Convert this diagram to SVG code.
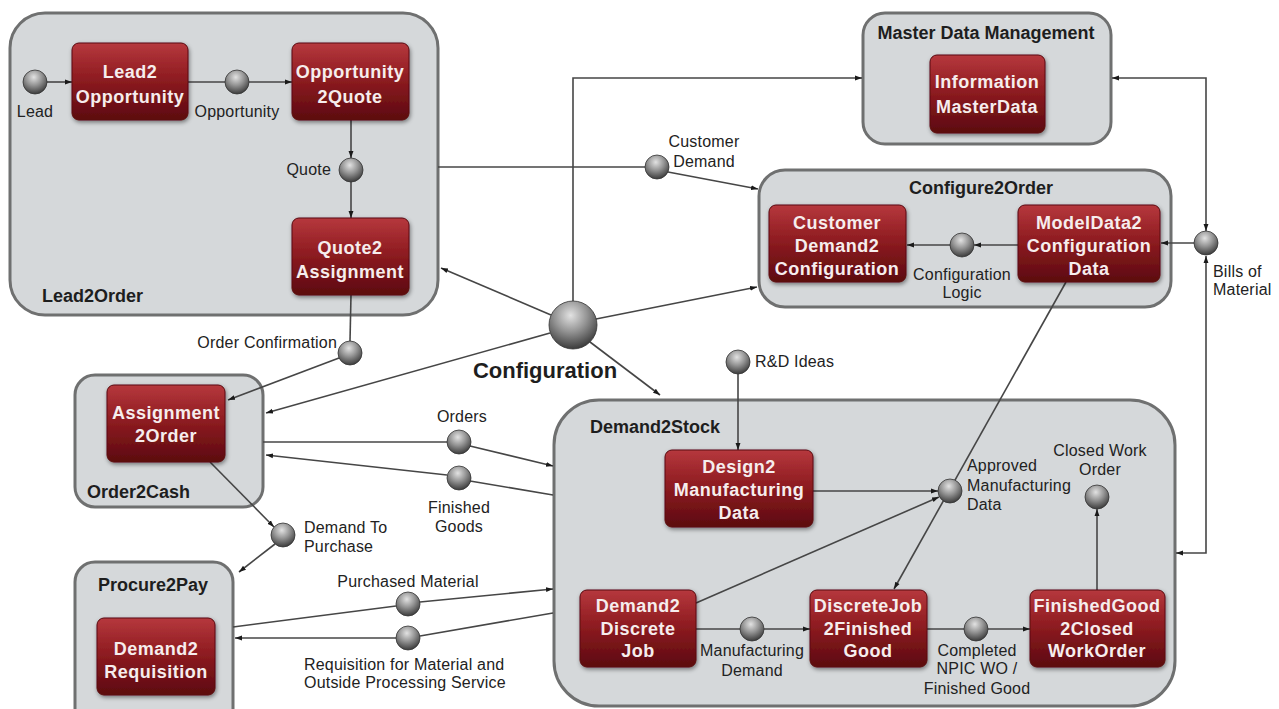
<svg xmlns="http://www.w3.org/2000/svg" width="1279" height="709" viewBox="0 0 1279 709">
<style>
.cont{fill:#d5d8da;stroke:#6f7070;stroke-width:3}
.box{fill:url(#red);stroke:#5a0a0e;stroke-width:1;filter:url(#sh)}
.bt{font-family:"Liberation Sans",Arial,sans-serif;font-weight:bold;font-size:18px;fill:#f6eded;text-anchor:middle;letter-spacing:0.5px}
.ct{font-family:"Liberation Sans",Arial,sans-serif;font-weight:bold;font-size:18px;fill:#1e1e1e}
.lb{font-family:"Liberation Sans",Arial,sans-serif;font-size:16px;fill:#222;letter-spacing:0.2px}
.m{text-anchor:middle}
.e{text-anchor:end}
.ball{fill:url(#sph);stroke:#333;stroke-width:0.8}
.cn line,.cn path{stroke:#464646;stroke-width:1.6;fill:none}
.a{marker-end:url(#ah)}
</style>
<defs>
<linearGradient id="red" x1="0" y1="0" x2="0" y2="1">
<stop offset="0" stop-color="#b6383d"/>
<stop offset="0.45" stop-color="#8f1c21"/>
<stop offset="1" stop-color="#5c0a0f"/>
</linearGradient>
<radialGradient id="sph" cx="0.45" cy="0.3" r="0.75">
<stop offset="0" stop-color="#e2e2e2"/>
<stop offset="0.45" stop-color="#959595"/>
<stop offset="1" stop-color="#2f2f2f"/>
</radialGradient>
<filter id="sh" x="-10%" y="-10%" width="125%" height="130%">
<feDropShadow dx="1" dy="2" stdDeviation="2" flood-color="#000" flood-opacity="0.45"/>
</filter>
<marker id="ah" viewBox="0 0 10 10" refX="10" refY="5" markerWidth="7" markerHeight="7" markerUnits="userSpaceOnUse" orient="auto">
<path d="M0,1.5 L10,5 L0,8.5 z" fill="#1a1a1a"/>
</marker>
</defs>
<rect width="1279" height="709" fill="#fff"/>

<g id="containers">
<g id="lead2order"><rect class="cont" x="10" y="13" width="428" height="302" rx="35"/><text class="ct" x="42" y="302">Lead2Order</text></g>
<g id="masterdata"><rect class="cont" x="863" y="13" width="248" height="131" rx="22"/><text class="ct m" x="986" y="39" text-anchor="middle">Master Data Management</text></g>
<g id="configure2order"><rect class="cont" x="759" y="170" width="412" height="137" rx="26"/><text class="ct" x="981" y="194" text-anchor="middle">Configure2Order</text></g>
<g id="order2cash"><rect class="cont" x="75" y="375" width="188" height="132" rx="20"/><text class="ct" x="87" y="498">Order2Cash</text></g>
<g id="procure2pay"><rect class="cont" x="75" y="562" width="158" height="170" rx="20"/><text class="ct" x="153" y="591" text-anchor="middle">Procure2Pay</text></g>
<g id="demand2stock"><rect class="cont" x="554" y="400" width="621" height="306" rx="45"/><text class="ct" x="590" y="433">Demand2Stock</text></g>
</g>

<g id="connectors" class="cn">
<line class="a" x1="47" y1="82" x2="72" y2="82"/>
<line x1="188" y1="82" x2="225" y2="82"/>
<line class="a" x1="249" y1="82" x2="292" y2="82"/>
<line class="a" x1="351" y1="120" x2="351" y2="158"/>
<line class="a" x1="351" y1="182" x2="351" y2="218"/>
<line x1="351" y1="295" x2="350" y2="341"/>
<line class="a" x1="339" y1="358" x2="228" y2="400"/>
<line x1="438" y1="167" x2="645" y2="167"/>
<line class="a" x1="668" y1="172" x2="758" y2="189"/>
<path class="a" d="M573,301 L573,78 L862,78"/>
<line class="a" x1="551" y1="315" x2="441" y2="268"/>
<line class="a" x1="596" y1="319" x2="757" y2="287"/>
<line class="a" x1="590" y1="342" x2="660" y2="395"/>
<line class="a" x1="550" y1="333" x2="266" y2="413"/>
<path class="a" d="M1206,200 L1206,78 L1112,78"/>
<line class="a" x1="1206" y1="200" x2="1206" y2="231"/>
<line class="a" x1="1194" y1="243" x2="1161" y2="243"/>
<path class="a" d="M1206,500 L1206,553 L1176,553"/>
<line class="a" x1="1206" y1="500" x2="1206" y2="256"/>
<line class="a" x1="1018" y1="245" x2="974" y2="245"/>
<line class="a" x1="950" y1="245" x2="907" y2="245"/>
<line x1="263" y1="442" x2="447" y2="442"/>
<line class="a" x1="470" y1="446" x2="553" y2="466"/>
<line x1="553" y1="495" x2="470" y2="481"/>
<line class="a" x1="447" y1="475" x2="266" y2="455"/>
<line class="a" x1="210" y1="462" x2="274" y2="527"/>
<line class="a" x1="275" y1="544" x2="239" y2="572"/>
<line x1="233" y1="627" x2="396" y2="606"/>
<line class="a" x1="420" y1="602" x2="553" y2="589"/>
<line x1="553" y1="613" x2="420" y2="636"/>
<line class="a" x1="396" y1="638" x2="235" y2="638"/>
<line class="a" x1="738" y1="374" x2="738" y2="450"/>
<line class="a" x1="813" y1="491" x2="938" y2="491"/>
<line class="a" x1="696" y1="603" x2="939" y2="497"/>
<line class="a" x1="1066" y1="282" x2="894" y2="589"/>
<line x1="696" y1="629" x2="740" y2="629"/>
<line class="a" x1="764" y1="629" x2="810" y2="629"/>
<line x1="927" y1="629" x2="964" y2="629"/>
<line class="a" x1="988" y1="629" x2="1030" y2="629"/>
<line class="a" x1="1097" y1="590" x2="1097" y2="509"/>
</g>

<g id="n-lead2opportunity"><rect class="box" x="72" y="43" width="116" height="77" rx="7"/><text class="bt" x="130" y="78">Lead2</text><text class="bt" x="130" y="103">Opportunity</text></g>
<g id="n-opportunity2quote"><rect class="box" x="292" y="43" width="117" height="77" rx="7"/><text class="bt" x="350" y="78">Opportunity</text><text class="bt" x="350" y="103">2Quote</text></g>
<g id="n-quote2assignment"><rect class="box" x="292" y="218" width="117" height="77" rx="7"/><text class="bt" x="350" y="254">Quote2</text><text class="bt" x="350" y="278">Assignment</text></g>
<g id="n-informationmasterdata"><rect class="box" x="930" y="55" width="115" height="78" rx="7"/><text class="bt" x="987" y="88">Information</text><text class="bt" x="987" y="113">MasterData</text></g>
<g id="n-customerdemand2configuration"><rect class="box" x="769" y="205" width="137" height="77" rx="7"/><text class="bt" x="837" y="229">Customer</text><text class="bt" x="837" y="252">Demand2</text><text class="bt" x="837" y="275">Configuration</text></g>
<g id="n-modeldata2configurationdata"><rect class="box" x="1018" y="205" width="142" height="77" rx="7"/><text class="bt" x="1089" y="229">ModelData2</text><text class="bt" x="1089" y="252">Configuration</text><text class="bt" x="1089" y="275">Data</text></g>
<g id="n-assignment2order"><rect class="box" x="107" y="385" width="118" height="77" rx="7"/><text class="bt" x="166" y="419">Assignment</text><text class="bt" x="166" y="442">2Order</text></g>
<g id="n-demand2requisition"><rect class="box" x="97" y="618" width="118" height="77" rx="7"/><text class="bt" x="156" y="655">Demand2</text><text class="bt" x="156" y="678">Requisition</text></g>
<g id="n-design2manufacturingdata"><rect class="box" x="665" y="450" width="148" height="77" rx="7"/><text class="bt" x="739" y="473">Design2</text><text class="bt" x="739" y="496">Manufacturing</text><text class="bt" x="739" y="519">Data</text></g>
<g id="n-demand2discretejob"><rect class="box" x="580" y="590" width="116" height="77" rx="7"/><text class="bt" x="638" y="612">Demand2</text><text class="bt" x="638" y="635">Discrete</text><text class="bt" x="638" y="657">Job</text></g>
<g id="n-discretejob2finishedgood"><rect class="box" x="810" y="590" width="117" height="77" rx="7"/><text class="bt" x="868" y="612">DiscreteJob</text><text class="bt" x="868" y="635">2Finished</text><text class="bt" x="868" y="657">Good</text></g>
<g id="n-finishedgood2closedworkorder"><rect class="box" x="1030" y="590" width="135" height="77" rx="7"/><text class="bt" x="1097" y="612">FinishedGood</text><text class="bt" x="1097" y="635">2Closed</text><text class="bt" x="1097" y="657">WorkOrder</text></g>

<g id="d-lead"><circle class="ball" cx="35" cy="82" r="12"/><text class="lb m" x="35" y="117">Lead</text></g>
<g id="d-opportunity"><circle class="ball" cx="237" cy="82" r="12"/><text class="lb m" x="237" y="117">Opportunity</text></g>
<g id="d-quote"><circle class="ball" cx="351" cy="170" r="12"/><text class="lb e" x="331" y="175">Quote</text></g>
<g id="d-orderconfirmation"><circle class="ball" cx="350" cy="353" r="12"/><text class="lb e" x="337" y="348">Order Confirmation</text></g>
<g id="d-customerdemand"><circle class="ball" cx="657" cy="167" r="12"/><text class="lb m" x="704" y="147">Customer</text><text class="lb m" x="704" y="167">Demand</text></g>
<g id="d-configurationlogic"><circle class="ball" cx="962" cy="245" r="12"/><text class="lb m" x="962" y="280">Configuration</text><text class="lb m" x="962" y="298">Logic</text></g>
<g id="d-billsofmaterial"><circle class="ball" cx="1206" cy="243" r="12"/><text class="lb" x="1213" y="277">Bills of</text><text class="lb" x="1213" y="295">Material</text></g>
<g id="d-configuration"><circle class="ball" cx="573" cy="325" r="24"/><text x="545" y="378" text-anchor="middle" font-family="Liberation Sans, Arial, sans-serif" font-weight="bold" font-size="22" fill="#1e1e1e">Configuration</text></g>
<g id="d-orders"><circle class="ball" cx="459" cy="442" r="12"/><text class="lb m" x="462" y="422">Orders</text></g>
<g id="d-finishedgoods"><circle class="ball" cx="459" cy="478" r="12"/><text class="lb m" x="459" y="513">Finished</text><text class="lb m" x="459" y="532">Goods</text></g>
<g id="d-demandtopurchase"><circle class="ball" cx="283" cy="535" r="12"/><text class="lb" x="304" y="533">Demand To</text><text class="lb" x="304" y="552">Purchase</text></g>
<g id="d-purchasedmaterial"><circle class="ball" cx="408" cy="604" r="12"/><text class="lb m" x="408" y="587">Purchased Material</text></g>
<g id="d-requisition"><circle class="ball" cx="408" cy="638" r="12"/><text class="lb" x="304" y="670">Requisition for Material and</text><text class="lb" x="304" y="688">Outside Processing Service</text></g>
<g id="d-rdideas"><circle class="ball" cx="738" cy="362" r="12"/><text class="lb" x="755" y="367">R&amp;D Ideas</text></g>
<g id="d-approved"><circle class="ball" cx="950" cy="491" r="12"/><text class="lb" x="967" y="471">Approved</text><text class="lb" x="967" y="491">Manufacturing</text><text class="lb" x="967" y="510">Data</text></g>
<g id="d-closedworkorder"><circle class="ball" cx="1097" cy="497" r="12"/><text class="lb m" x="1100" y="456">Closed Work</text><text class="lb m" x="1100" y="475">Order</text></g>
<g id="d-manufacturingdemand"><circle class="ball" cx="752" cy="629" r="12"/><text class="lb m" x="752" y="656">Manufacturing</text><text class="lb m" x="752" y="676">Demand</text></g>
<g id="d-completed"><circle class="ball" cx="976" cy="629" r="12"/><text class="lb m" x="977" y="656">Completed</text><text class="lb m" x="977" y="674">NPIC WO /</text><text class="lb m" x="977" y="694">Finished Good</text></g>
</svg>
